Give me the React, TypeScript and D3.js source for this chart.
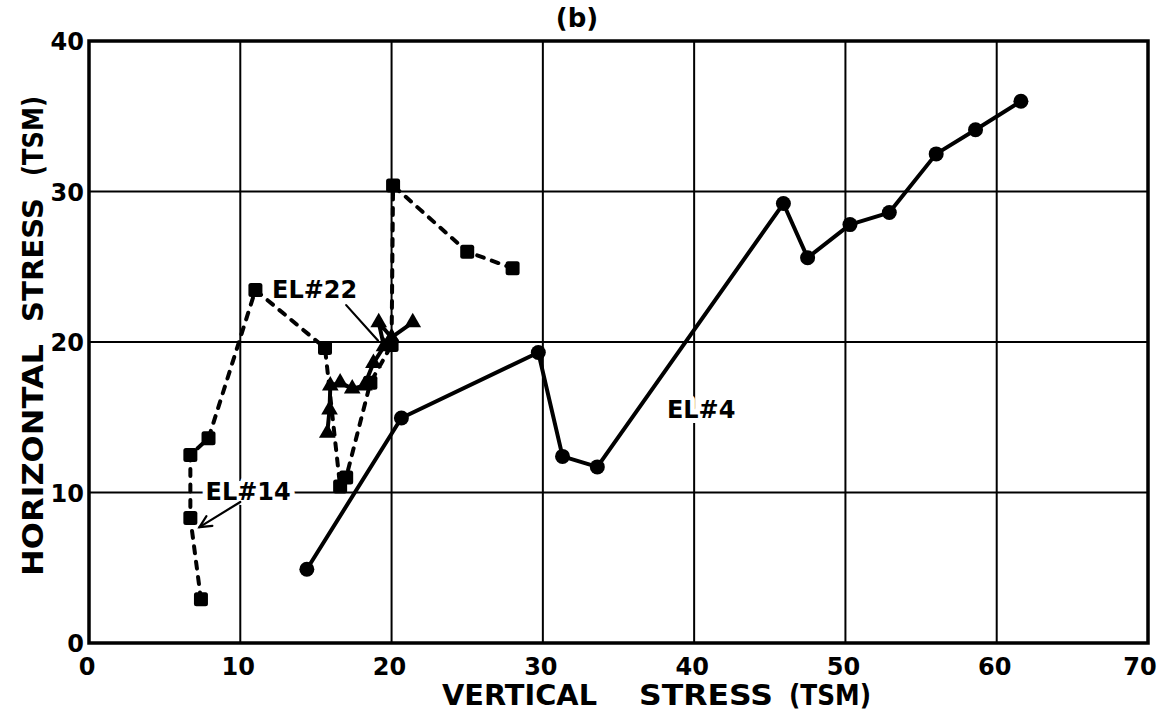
import React from 'react';
import * as d3 from 'd3';

const xTicks = [0, 10, 20, 30, 40, 50, 60, 70];
const yTicks = [0, 10, 20, 30, 40];

// EL#4 (solid line, circles)
const el4X = [14.4, 20.65, 29.7, 31.3, 33.6, 45.9, 47.5, 50.3, 52.9, 56.0, 58.6, 61.6];
const el4Y = [4.9, 14.95, 19.3, 12.4, 11.7, 29.2, 25.6, 27.8, 28.6, 32.5, 34.1, 36.0];

// EL#14 (dashed line, squares)
const el14X = [7.4, 6.7, 6.7, 7.9, 11.0, 15.6, 16.6, 17.0, 18.6, 20.0, 20.1, 25.0, 28.0];
const el14Y = [2.9, 8.3, 12.5, 13.6, 23.45, 19.6, 10.4, 11.0, 17.3, 19.8, 30.4, 26.0, 24.9];

// EL#22 (solid line, triangles)
const el22X = [15.75, 15.9, 15.95, 16.6, 17.4, 18.2, 18.8, 19.5, 19.15, 20.0, 21.4];
const el22Y = [13.95, 15.5, 17.1, 17.3, 16.9, 17.1, 18.6, 19.7, 21.3, 20.3, 21.3];

const labelText = ['EL#22', 'EL#14', 'EL#4'];
const labelX = [12.1, 7.7, 38.2];
const labelY = [22.95, 9.5, 14.95];

const arrowFromX = [17.0, 10.0];
const arrowFromY = [22.45, 9.37];
const arrowToX = [19.1, 7.3];
const arrowToY = [20.1, 7.7];

const FONT = '"DejaVu Sans", "Liberation Sans", Arial, sans-serif';

export default function App() {
  const W = 1164, H = 713;
  const x = d3.scaleLinear().domain([0, 70]).range([89, 1148]);
  const y = d3.scaleLinear().domain([0, 40]).range([643, 41]);
  const line = d3.line<[number, number]>().x(d => x(d[0])).y(d => y(d[1]));

  const el4 = el4X.map((v, i) => [v, el4Y[i]] as [number, number]);
  const el14 = el14X.map((v, i) => [v, el14Y[i]] as [number, number]);
  const el22 = el22X.map((v, i) => [v, el22Y[i]] as [number, number]);
  const tri = d3.symbol(d3.symbolTriangle, 120)() as string;

  return (
    <svg width={W} height={H} style={{ position: 'absolute', left: 0, top: 0, background: '#fff' }}>
      <rect x={0} y={0} width={W} height={H} fill="#fff" />
      {/* grid */}
      {xTicks.slice(1, -1).map(t => (
        <line key={'gx' + t} x1={x(t)} x2={x(t)} y1={y(40)} y2={y(0)} stroke="#000" strokeWidth={2} />
      ))}
      {yTicks.slice(1, -1).map(t => (
        <line key={'gy' + t} x1={x(0)} x2={x(70)} y1={y(t)} y2={y(t)} stroke="#000" strokeWidth={2} />
      ))}
      {/* frame */}
      <rect x={x(0)} y={y(40)} width={x(70) - x(0)} height={y(0) - y(40)} fill="none" stroke="#000" strokeWidth={3.5} />

      {/* tick labels */}
      {xTicks.map((t, i) => (
        <text key={'xl' + t} x={x(t) - (i === xTicks.length - 1 ? 8 : 2)} y={y(0) + 32} textAnchor="middle" fontFamily={FONT} fontWeight="bold" fontSize={24}>{t}</text>
      ))}
      {yTicks.map(t => (
        <text key={'yl' + t} x={x(0) - 5} y={y(t) + 9} textAnchor="end" fontFamily={FONT} fontWeight="bold" fontSize={24}>{t}</text>
      ))}

      {/* axis titles */}
      <g fontFamily={FONT} fontWeight="bold" fontSize={28}>
        <text x={442} y={705} textLength={155} lengthAdjust="spacingAndGlyphs">VERTICAL</text>
        <text x={639} y={705} textLength={134} lengthAdjust="spacingAndGlyphs">STRESS</text>
        <text x={789} y={705} textLength={82} lengthAdjust="spacingAndGlyphs">(TSM)</text>
      </g>
      <g fontFamily={FONT} fontWeight="bold" fontSize={28} transform="translate(43,0) rotate(-90)">
        <text x={-576} y={0} textLength={232} lengthAdjust="spacingAndGlyphs">HORIZONTAL</text>
        <text x={-322} y={0} textLength={124} lengthAdjust="spacingAndGlyphs">STRESS</text>
        <text x={-176} y={0} textLength={80} lengthAdjust="spacingAndGlyphs">(TSM)</text>
      </g>
      <text x={577} y={27} textAnchor="middle" fontFamily={FONT} fontWeight="bold" fontSize={26}>(b)</text>

      {/* annotation labels with knock-out halo */}
      {labelText.map((t, i) => (
        <text key={t} x={x(labelX[i])} y={y(labelY[i])} fontFamily={FONT} fontWeight="bold" fontSize={24}
          stroke="#fff" strokeWidth={10} strokeLinejoin="round" style={{ paintOrder: 'stroke' }} fill="#000">{t}</text>
      ))}

      {/* EL#4 */}
      <path d={line(el4) as string} fill="none" stroke="#000" strokeWidth={4} strokeLinejoin="round" />
      {el4.map((d, i) => <circle key={'c' + i} cx={x(d[0])} cy={y(d[1])} r={7.5} fill="#000" />)}

      {/* EL#14 */}
      <path d={line(el14) as string} fill="none" stroke="#000" strokeWidth={4} strokeDasharray="7 8.5" strokeLinecap="round" />
      {el14.map((d, i) => (
        <rect key={'s' + i} x={x(d[0]) - 7} y={y(d[1]) - 7} width={14} height={14} rx={2.5} fill="#000" />
      ))}

      {/* EL#22 */}
      <path d={line(el22) as string} fill="none" stroke="#000" strokeWidth={4} strokeLinejoin="round" />
      {el22.map((d, i) => (
        <path key={'t' + i} d={tri} transform={`translate(${x(d[0])},${y(d[1])})`} fill="#000" />
      ))}

      {/* arrows */}
      {arrowFromX.map((v, i) => {
        const x1 = x(v), y1 = y(arrowFromY[i]), x2 = x(arrowToX[i]), y2 = y(arrowToY[i]);
        const a = Math.atan2(y2 - y1, x2 - x1);
        const L = 13, s = 0.45;
        return (
          <g key={'a' + i} stroke="#000" strokeWidth={2.2} fill="none" strokeLinecap="round">
            <line x1={x1} y1={y1} x2={x2} y2={y2} />
            {i === 1 && (
              <path d={`M${x2 - L * Math.cos(a - s)},${y2 - L * Math.sin(a - s)} L${x2},${y2} L${x2 - L * Math.cos(a + s)},${y2 - L * Math.sin(a + s)}`} />
            )}
          </g>
        );
      })}
    </svg>
  );
}
